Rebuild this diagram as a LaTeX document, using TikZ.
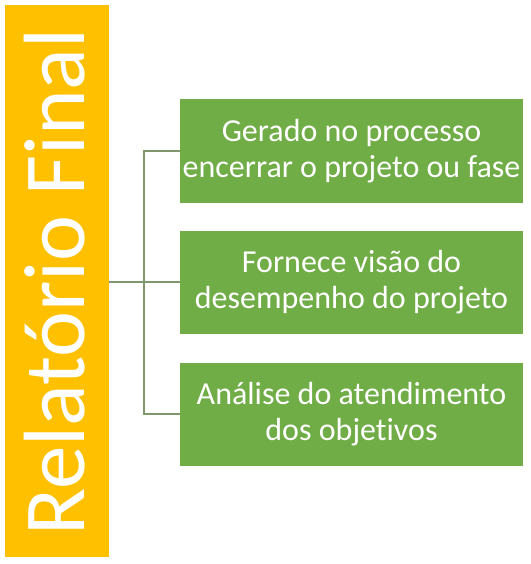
\documentclass[tikz,border=0pt]{standalone}
\usepackage{fontspec}
\setmainfont{Carlito}[Ligatures=NoCommon]
\definecolor{ambar}{RGB}{255,192,0}
\definecolor{verde}{RGB}{112,173,71}
\definecolor{linha}{RGB}{128,150,108}
\tikzset{
  caixa/.style={fill=verde, minimum width=343pt, minimum height=103pt,
    align=center, text=white, inner sep=0pt,
    font=\fontsize{32}{36}\selectfont},
  ramo/.style={draw=linha, line width=1.3pt}
}
\begin{document}
\begin{tikzpicture}[x=1pt,y=-1pt]
    \useasboundingbox (0,0) rectangle (530,564);
    % barra lateral
    \node[fill=ambar, minimum width=104pt, minimum height=552pt, inner sep=0pt] (relat) at (57,281) {};
    \node[rotate=90, text=white, font=\fontsize{87}{90}\selectfont] (titulo) at (55,282) {Relatório Final};
    % caixas
    \node[caixa] (g1) at (351.5,151) {Gerado no processo\\encerrar o projeto ou fase};
    \node[caixa] (g2) at (351.5,282) {Fornece visão do\\desempenho do projeto};
    \node[caixa] (g3) at (351.5,414) {Análise do atendimento\\dos objetivos};
    % ligacoes
    \coordinate (ctop) at (144,151);
    \coordinate (cbot) at (144,414);
    \draw[ramo] (g1.west) -- (ctop) -- (cbot) -- (g3.west);
    \draw[ramo] (relat.east |- g2.west) -- (g2.west);
\end{tikzpicture}
\end{document}
